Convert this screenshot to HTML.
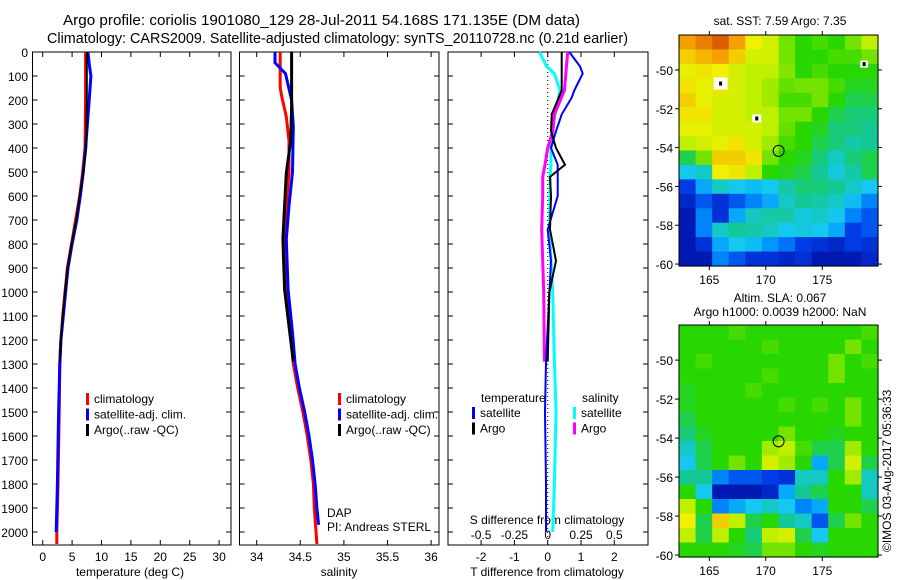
<!DOCTYPE html>
<html><head><meta charset="utf-8"><style>
html,body{margin:0;padding:0;background:#fff;}
svg{display:block;font-family:"Liberation Sans",sans-serif;}
</style></head><body>
<svg id="fig" width="900" height="580" viewBox="0 0 900 580">
<text x="63" y="25" font-size="14.5" textLength="517" lengthAdjust="spacingAndGlyphs">Argo profile: coriolis 1901080_129 28-Jul-2011 54.168S 171.135E (DM data)</text>
<text x="47" y="43" font-size="14.5" textLength="581" lengthAdjust="spacingAndGlyphs">Climatology: CARS2009. Satellite-adjusted climatology: synTS_20110728.nc (0.21d earlier)</text>
<text x="780" y="25" font-size="12" text-anchor="middle">sat. SST: 7.59 Argo: 7.35</text>
<text x="780" y="302" font-size="12" text-anchor="middle">Altim. SLA: 0.067</text>
<text x="780" y="316" font-size="12" text-anchor="middle">Argo h1000: 0.0039 h2000: NaN</text>
<text transform="translate(891,552) rotate(-90)" font-size="12">©IMOS 03-Aug-2017 05:36:33</text>
</svg>
<script>
// ---- data ----
const depthTicks=[0,100,200,300,400,500,600,700,800,900,1000,1100,1200,1300,1400,1500,1600,1700,1800,1900,2000];
const tempTicks=[0,5,10,15,20,25,30];
const salTicks=[34,34.5,35,35.5,36];
const salTickLabels=["34","34.5","35","35.5","36"];
const tdiffTicks=[-2,-1,0,1,2];
const sdiffTicks=[-0.5,-0.25,0,0.25,0.5];
const sdiffTickLabels=["-0.5","-0.25","0","0.25","0.5"];
const climTempDepth=[0,200,400,500,600,700,800,900,1000,1100,1200,1300,1500,1800,2000,2050];
const climTemp=[7.3,7.3,7.2,6.8,6.3,5.6,4.9,4.2,3.8,3.4,3.1,2.9,2.8,2.6,2.4,2.4];
const satTempDepth=[0,50,100,200,300,400,500,600,700,800,900,1000,1100,1200,1300,1500,1800,2000];
const satTemp=[7.7,7.9,8.2,7.9,7.6,7.3,6.9,6.4,5.8,5.0,4.3,3.9,3.5,3.1,2.9,2.7,2.5,2.3];
const argoTempDepth=[0,200,400,500,600,700,800,900,1000,1100,1200,1290];
const argoTemp=[7.5,7.5,7.4,6.9,6.3,5.7,4.9,4.2,3.8,3.4,3.1,2.9];
const climSalDepth=[0,150,190,270,370,500,640,780,990,1130,1300,1400,1500,1600,1700,1800,1900,2050];
const climSal=[34.27,34.27,34.29,34.34,34.37,34.37,34.34,34.32,34.34,34.38,34.42,34.47,34.53,34.58,34.62,34.65,34.66,34.69];
const satSalDepth=[0,45,75,90,200,310,500,640,780,990,1170,1300,1400,1500,1600,1700,1800,1900,1970];
const satSal=[34.21,34.21,34.29,34.33,34.40,34.42,34.41,34.37,34.34,34.36,34.41,34.44,34.49,34.55,34.60,34.64,34.67,34.69,34.71];
const argoSalDepth=[0,230,370,505,640,780,990,1170,1290];
const argoSal=[34.40,34.40,34.39,34.34,34.32,34.30,34.32,34.38,34.42];
const diffDepth=[0,60,90,160,190,260,330,400,470,520,600,740,870,1000,1290,1500,1800,2000];
const satTDiff=[0.65,0.97,1.05,0.8,0.72,0.42,0.25,0.1,0.3,0.3,0.3,0.0,0.1,0.05,-0.05,-0.08,-0.05,-0.05];
const satSDiffT=[-0.25,-0.03,0.2,0.37,0.33,0.22,0.15,0.1,0.1,0.07,0.07,0.05,0.1,0.15,0.2,0.25,0.2,0.15];
const argoDiffDepth=[0,160,260,330,400,470,520,600,740,870,1000,1290];
const argoTDiff=[0.42,0.42,0.12,0.1,0.25,0.52,0.07,0.1,0.07,0.25,0.05,0.0];
const argoSDiffT=[0.6,0.5,0.2,0.15,0.0,-0.08,-0.15,-0.15,-0.18,-0.15,-0.12,-0.1];
const lonTicks=[165,170,175];
const latTicks=[-50,-52,-54,-56,-58,-60];
const sstGrid=[
[.72,.75,.78,.72,.65,.62,.55,.5,.52,.5,.55,.6],
[.68,.7,.72,.68,.62,.62,.55,.5,.5,.52,.52,.55],
[.64,.66,.65,.62,.6,.6,.56,.5,.52,.5,.5,.5],
[.66,.64,.66,.62,.6,.58,.54,.55,.55,.52,.48,.48],
[.68,.64,.62,.62,.6,.58,.52,.52,.55,.5,.45,.45],
[.66,.66,.62,.62,.6,.6,.55,.55,.5,.45,.42,.42],
[.64,.64,.62,.62,.62,.6,.54,.5,.48,.42,.42,.4],
[.6,.62,.64,.66,.62,.58,.52,.5,.45,.42,.38,.4],
[.45,.55,.68,.68,.66,.55,.5,.48,.42,.35,.42,.45],
[.3,.35,.65,.66,.6,.5,.48,.45,.4,.32,.38,.45],
[.12,.25,.35,.3,.28,.3,.38,.42,.42,.4,.35,.3],
[.08,.15,.1,.15,.2,.25,.35,.4,.38,.35,.28,.2],
[.05,.2,.1,.25,.35,.38,.38,.32,.35,.3,.2,.15],
[.05,.2,.35,.4,.38,.35,.3,.32,.3,.25,.12,.15],
[.05,.1,.25,.3,.28,.22,.18,.12,.1,.08,.12,.1],
[.05,.05,.2,.15,.1,.1,.08,.1,.05,.05,.05,.08]];
const slaGrid=[
[.5,.5,.5,.52,.5,.5,.5,.5,.5,.5,.5,.52],
[.5,.5,.5,.5,.5,.52,.5,.5,.5,.5,.55,.5],
[.5,.52,.5,.5,.5,.5,.5,.5,.5,.55,.5,.52],
[.5,.5,.5,.5,.5,.52,.5,.5,.5,.55,.5,.5],
[.48,.5,.5,.5,.52,.5,.5,.5,.5,.5,.5,.5],
[.48,.5,.5,.5,.5,.5,.52,.5,.52,.5,.55,.5],
[.45,.5,.5,.5,.5,.5,.5,.5,.5,.5,.55,.5],
[.42,.48,.5,.5,.5,.5,.55,.5,.5,.48,.5,.5],
[.35,.45,.5,.5,.5,.58,.6,.52,.45,.45,.58,.5],
[.3,.45,.5,.55,.5,.62,.58,.5,.25,.45,.62,.45],
[.4,.4,.2,.15,.15,.12,.1,.35,.35,.5,.58,.35],
[.5,.3,.05,.05,.05,.08,.25,.4,.45,.5,.5,.35],
[.6,.5,.2,.25,.3,.35,.3,.2,.25,.5,.5,.45],
[.65,.45,.68,.6,.45,.5,.4,.35,.15,.45,.55,.5],
[.6,.45,.6,.5,.42,.6,.62,.45,.3,.5,.5,.5],
[.5,.5,.5,.48,.45,.55,.55,.5,.48,.5,.5,.5]];
const argoLon=171.135, argoLat=-54.168;

const NS="http://www.w3.org/2000/svg";
const svg=document.getElementById('fig');
function mk(tag,attrs,parent){const e=document.createElementNS(NS,tag);for(const k in attrs)e.setAttribute(k,attrs[k]);(parent||svg).appendChild(e);return e;}
const TOP=52,BOT=545;
const yD=d=>52+d*0.24;

function panel(x0,x1,name){
  const g=mk('g',{});
  
  
  return g;
}
function frame(g,x0,x1,xs,ticksX){
  const r=mk('rect',{x:x0,y:TOP,width:x1-x0,height:BOT-TOP,fill:'none',stroke:'#000','stroke-width':1},g);
  
  
  ticksX.forEach(v=>{const x=xs(v);
    mk('line',{x1:x,x2:x,y1:TOP,y2:TOP+5,stroke:'#000'},g);
    mk('line',{x1:x,x2:x,y1:BOT,y2:BOT-5,stroke:'#000'},g);});
  depthTicks.forEach(d=>{const y=yD(d);
    mk('line',{x1:x0,x2:x0+5,y1:y,y2:y,stroke:'#000'},g);
    mk('line',{x1:x1,x2:x1-5,y1:y,y2:y,stroke:'#000'},g);});
}
function line(g,xs,vals,depths,color,w,name){
  const pts=vals.map((v,i)=>xs(v).toFixed(1)+','+yD(depths[i]).toFixed(1)).join(' ');
  const p=mk('polyline',{points:pts,fill:'none',stroke:color,'stroke-width':w,'stroke-linejoin':'miter'},g);
  
  
}
function txt(g,x,y,s,size,anchor,name){
  const t=mk('text',{x:x,y:y,'font-size':size,'text-anchor':anchor||'start'},g);
  t.textContent=s;
  
  
  return t;
}
function legend(g,x,y,items){
  items.forEach((it,i)=>{
    const yy=y+i*15.5;
    const b=mk('rect',{x:x,y:yy-9,width:3,height:12,fill:it[1]},g);
    
    
    txt(g,x+8,yy+1,it[0],12,'start','legend-entry');
  });
}

// Panel 1 temperature
const tx=v=>42.7+v*5.88;
const p1=panel(32.5,231,'temperature-panel');
frame(p1,32.5,231,tx,tempTicks);
depthTicks.forEach(d=>txt(p1,28,yD(d)+5,String(d),12,'end','y-tick-label'));
tempTicks.forEach(v=>txt(p1,tx(v),561,String(v),12,'middle','x-tick-label'));
txt(p1,130,576,'temperature (deg C)',12,'middle','x-axis-title');
line(p1,tx,climTemp,climTempDepth,'#ff0000',3,'climatology-temp-line');
line(p1,tx,satTemp,satTempDepth,'#0000ff',3,'satellite-temp-line');
line(p1,tx,argoTemp,argoTempDepth,'#000000',2,'argo-temp-line');
legend(p1,86,402,[['climatology','#ff0000'],['satellite-adj. clim.','#0000ff'],['Argo(..raw -QC)','#000']]);

// Panel 2 salinity
const sx=v=>256.7+(v-34)*87.2;
const p2=panel(239.5,439,'salinity-panel');
frame(p2,239.5,439,sx,salTicks);
salTicks.forEach((v,i)=>txt(p2,sx(v),561,salTickLabels[i],12,'middle','x-tick-label'));
txt(p2,339,576,'salinity',12,'middle','x-axis-title');
line(p2,sx,climSal,climSalDepth,'#ff0000',3,'climatology-sal-line');
line(p2,sx,satSal,satSalDepth,'#0000ff',3,'satellite-sal-line');
line(p2,sx,argoSal,argoSalDepth,'#000000',3,'argo-sal-line');
legend(p2,338,402,[['climatology','#ff0000'],['satellite-adj. clim.','#0000ff'],['Argo(..raw -QC)','#000']]);
txt(p2,327,517,'DAP',12,'start','dap-label');
txt(p2,327,531,'PI: Andreas STERL',12,'start','pi-label');

// Panel 3 differences
const dx=v=>547.7+v*33.3;
const dsx=v=>dx(v*4);
const p3=panel(448,648,'difference-panel');
frame(p3,448,648,dx,tdiffTicks);
mk('line',{x1:dx(0),x2:dx(0),y1:TOP,y2:BOT,stroke:'#000','stroke-dasharray':'1,3'},p3);
tdiffTicks.forEach(v=>txt(p3,dx(v),561,String(v),12,'middle','t-diff-tick-label'));
sdiffTicks.forEach((v,i)=>txt(p3,dsx(v),539,sdiffTickLabels[i],12,'middle','s-diff-tick-label'));
txt(p3,547,524,'S difference from climatology',12,'middle','s-diff-axis-title');
txt(p3,547,576,'T difference from climatology',12,'middle','t-diff-axis-title');
line(p3,dx,satSDiffT,diffDepth,'#00ffff',3,'satellite-sal-diff-line');
line(p3,dx,argoSDiffT,argoDiffDepth,'#ff00ff',3,'argo-sal-diff-line');
line(p3,dx,satTDiff,diffDepth,'#0000ff',2,'satellite-temp-diff-line');
line(p3,dx,argoTDiff,argoDiffDepth,'#000000',2,'argo-temp-diff-line');
txt(p3,481,402,'temperature',12,'start','legend-header');
txt(p3,582,402,'salinity',12,'start','legend-header');
legend(p3,472,416,[['satellite','#0000ff'],['Argo','#000']]);
legend(p3,573,416,[['satellite','#00ffff'],['Argo','#ff00ff']]);

// Maps
const stops=[[0,[0,0,140]],[0.12,[0,60,230]],[0.22,[0,150,255]],[0.3,[20,200,240]],[0.4,[20,200,150]],[0.5,[40,215,0]],[0.6,[190,240,0]],[0.65,[240,240,0]],[0.72,[245,160,0]],[0.82,[200,50,0]],[1,[130,0,0]]];
function cmap(v){
  for(let i=1;i<stops.length;i++){if(v<=stops[i][0]){const a=stops[i-1],b=stops[i];const t=(v-a[0])/(b[0]-a[0]);
    return 'rgb('+a[1].map((c,k)=>Math.round(c+(b[1][k]-c)*t)).join(',')+')';}}
  return 'rgb(130,0,0)';
}
function map(y0,y1,grid,name,islands){
  const x0=679,x1=878;
  const lx=v=>709.3+(v-165)*11.3;
  const latY=v=>y0+(-48.2-v)*((y1-y0)/11.9);
  const g=mk('g',{});
  
  
  const R=grid.length,C=grid[0].length,cw=(x1-x0)/C,ch=(y1-y0)/R;
  grid.forEach((row,r)=>row.forEach((v,c)=>{
    const cell=mk('rect',{x:(x0+c*cw).toFixed(2),y:(y0+r*ch).toFixed(2),width:(cw+0.6).toFixed(2),height:(ch+0.6).toFixed(2),fill:cmap(v)},g);
    
    
  }));
  islands.forEach(is=>{
    const w=mk('rect',{x:lx(is[0])-is[2]/2,y:latY(is[1])-is[3]/2,width:is[2],height:is[3],fill:'#fff'},g);
    
    
    mk('rect',{x:lx(is[0])-1.5,y:latY(is[1])-2,width:3,height:4,fill:'#000'},g);
  });
  const c=mk('circle',{cx:lx(argoLon),cy:latY(argoLat),r:5.5,fill:'none',stroke:'#000','stroke-width':1},g);
  
  
  const fr=mk('rect',{x:x0,y:y0,width:x1-x0,height:y1-y0,fill:'none',stroke:'#000'},g);
  
  
  lonTicks.forEach(v=>{const x=lx(v);
    mk('line',{x1:x,x2:x,y1:y0-4,y2:y0,stroke:'#000'},g);
    mk('line',{x1:x,x2:x,y1:y1,y2:y1+4,stroke:'#000'},g);
    txt(g,x,y1+18,String(v),12,'middle','lon-tick-label');});
  latTicks.forEach(v=>{const y=latY(v);
    mk('line',{x1:x0-4,x2:x0,y1:y,y2:y,stroke:'#000'},g);
    mk('line',{x1:x1,x2:x1+4,y1:y,y2:y,stroke:'#000'},g);
    txt(g,x0-6,y+5,String(v),12,'end','lat-tick-label');});
}
map(35,266,sstGrid,'sst-map',[[166,-50.7,14,12],[169.2,-52.5,9,8],[178.7,-49.7,8,7]]);
map(325,557,slaGrid,'sla-map',[]);
</script>
</body></html>
